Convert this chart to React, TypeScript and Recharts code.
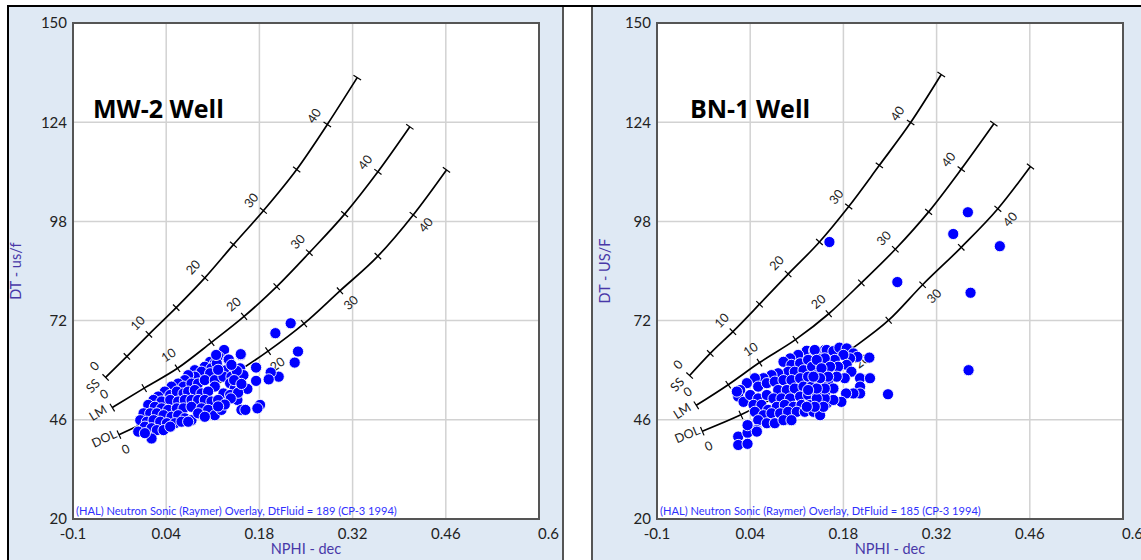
import React from 'react';
import { ComposedChart, Scatter, Line, XAxis, YAxis, CartesianGrid, ReferenceArea } from 'recharts';

const X_TICKS = [-0.1, 0.04, 0.18, 0.32, 0.46, 0.6];
const Y_TICKS = [20, 46, 72, 98, 124, 150];
const PHI_STEPS = [0, 5, 10, 15, 20, 25, 30, 35, 40, 45];

// MW-2 overlay curves: [NPHI, DT] at each porosity step (0..45 p.u.)
const MW2_SS = [[-0.051, 57.1], [-0.019, 62.6], [0.014, 68.4], [0.055, 75.4], [0.098, 83.2], [0.141, 91.9], [0.186, 100.8], [0.236, 111.6], [0.282, 123.4], [0.327, 135.7]];
const MW2_LM = [[-0.041, 49.2], [0.007, 54.3], [0.057, 59.5], [0.108, 66.3], [0.157, 73.1], [0.206, 80.9], [0.255, 89.8], [0.308, 99.9], [0.358, 111.0], [0.406, 122.8]];
const MW2_DOL = [[-0.031, 42.1], [0.024, 46.6], [0.079, 51.6], [0.136, 57.4], [0.193, 64.0], [0.247, 71.2], [0.301, 79.8], [0.358, 88.9], [0.411, 99.7], [0.461, 111.5]];

// BN-1 overlay curves
const BN1_SS = [[-0.051, 57.6], [-0.020, 63.4], [0.014, 69.1], [0.054, 76.3], [0.097, 84.2], [0.144, 92.6], [0.188, 101.9], [0.234, 112.7], [0.281, 123.9], [0.327, 136.5]];
const BN1_LM = [[-0.041, 49.8], [0.007, 55.2], [0.054, 61.0], [0.108, 67.0], [0.158, 73.8], [0.207, 81.9], [0.258, 90.7], [0.308, 100.5], [0.357, 111.7], [0.406, 123.6]];
const BN1_DOL = [[-0.032, 43.0], [0.026, 47.3], [0.081, 52.3], [0.138, 58.2], [0.194, 64.8], [0.248, 72.1], [0.299, 81.4], [0.357, 91.2], [0.412, 101.3], [0.461, 112.4]];

// MW-2 well samples [NPHI, DT]
const MW2_POINTS = [
  [0.127, 64.3], [0.152, 63.0], [0.119, 62.5], [0.133, 61.8], [0.136, 60.8], [0.106, 61.2], [0.113, 60.8], [0.098, 59.9], [0.108, 59.5], [0.119, 59.5],
  [0.130, 59.0], [0.143, 59.2], [0.083, 59.0], [0.093, 58.6], [0.106, 58.2], [0.083, 57.3], [0.073, 57.7], [0.068, 56.4], [0.058, 55.5], [0.066, 54.7],
  [0.078, 55.5], [0.088, 55.5], [0.098, 56.4], [0.113, 56.4], [0.126, 57.3], [0.138, 57.3], [0.113, 54.7], [0.136, 55.6], [0.143, 54.2], [0.153, 54.7],
  [0.048, 54.7], [0.038, 53.4], [0.046, 52.5], [0.056, 53.4], [0.066, 52.9], [0.073, 53.4], [0.083, 53.8], [0.093, 52.9], [0.103, 53.4], [0.126, 52.9],
  [0.136, 52.5], [0.147, 51.2], [0.028, 52.1], [0.021, 51.2], [0.033, 50.8], [0.046, 51.2], [0.058, 50.8], [0.068, 51.2], [0.078, 51.2], [0.088, 51.2],
  [0.098, 51.2], [0.108, 50.8], [0.118, 51.2], [0.013, 49.9], [0.023, 49.4], [0.033, 49.0], [0.043, 48.6], [0.056, 49.0], [0.066, 49.0], [0.078, 49.4],
  [0.093, 49.0], [0.103, 48.6], [0.113, 47.2], [0.123, 48.6], [0.153, 48.6], [0.006, 47.7], [0.016, 47.7], [0.026, 47.7], [0.036, 47.2], [0.048, 46.8],
  [0.058, 47.2], [0.068, 46.4], [0.078, 45.9], [0.088, 47.7], [0.098, 46.8], [0.001, 45.9], [0.011, 45.5], [0.021, 45.9], [0.031, 45.5], [0.041, 45.1],
  [0.053, 45.1], [0.063, 45.5], [0.073, 45.5], [0.008, 44.2], [0.018, 43.8], [0.026, 43.3], [0.036, 43.3], [0.046, 44.2], [-0.002, 42.9], [0.018, 41.1],
  [0.008, 42.5], [0.227, 71.3], [0.204, 68.7], [0.238, 63.9], [0.233, 61.0], [0.209, 57.3], [0.197, 58.4], [0.194, 56.6], [0.175, 59.7], [0.175, 56.2],
  [0.181, 49.9], [0.177, 49.0], [0.159, 48.6], [0.162, 54.1], [0.152, 63.2], [0.134, 61.8], [0.151, 59.5], [0.156, 57.7], [0.146, 58.8], [0.138, 60.4],
  [0.142, 56.4], [0.148, 53.1], [0.153, 55.4], [0.137, 51.6], [0.116, 60.8], [0.118, 59.1], [0.128, 50.0], [0.118, 49.5], [0.115, 63.0],
];

// BN-1 well samples [NPHI, DT]
const BN1_POINTS = [
  [0.125, 64.1], [0.136, 64.1], [0.152, 64.3], [0.112, 63.0], [0.100, 62.1], [0.090, 61.2], [0.102, 60.4], [0.115, 60.8], [0.127, 61.7], [0.142, 62.1],
  [0.157, 61.7], [0.097, 58.6], [0.107, 58.6], [0.120, 59.0], [0.133, 59.9], [0.147, 59.9], [0.155, 58.2], [0.082, 58.2], [0.072, 57.7], [0.060, 56.9],
  [0.047, 56.9], [0.035, 55.6], [0.025, 53.8], [0.022, 52.1], [0.030, 50.7], [0.040, 52.5], [0.052, 54.7], [0.065, 55.6], [0.077, 56.0], [0.090, 56.4],
  [0.102, 56.4], [0.115, 56.9], [0.127, 57.3], [0.140, 57.7], [0.082, 53.8], [0.095, 53.8], [0.107, 54.2], [0.120, 54.7], [0.132, 54.7], [0.145, 55.1],
  [0.157, 55.6], [0.052, 51.6], [0.065, 52.5], [0.075, 51.6], [0.087, 51.6], [0.100, 51.6], [0.115, 52.1], [0.127, 52.5], [0.140, 52.5], [0.152, 52.9],
  [0.045, 49.9], [0.057, 49.9], [0.067, 48.6], [0.080, 49.4], [0.092, 49.9], [0.105, 49.4], [0.117, 49.9], [0.130, 49.9], [0.142, 49.4], [0.155, 50.3],
  [0.047, 48.1], [0.060, 47.2], [0.072, 47.7], [0.085, 47.7], [0.097, 48.1], [0.110, 48.1], [0.122, 48.1], [0.135, 48.1], [0.145, 47.2], [0.052, 45.9],
  [0.065, 45.1], [0.077, 45.1], [0.090, 45.9], [0.102, 45.9], [0.037, 44.6], [0.050, 43.3], [0.022, 41.6], [0.036, 42.6], [0.050, 42.9], [0.022, 39.4],
  [0.036, 39.7], [0.036, 44.6], [0.020, 53.4], [0.137, 64.3], [0.155, 64.3], [0.165, 64.0], [0.174, 64.9], [0.185, 64.7], [0.195, 63.4], [0.201, 62.5],
  [0.219, 62.3], [0.190, 62.1], [0.180, 63.0], [0.167, 61.7], [0.152, 62.1], [0.140, 61.7], [0.185, 60.4], [0.172, 59.9], [0.160, 59.9], [0.147, 59.5],
  [0.192, 58.6], [0.182, 56.9], [0.170, 57.3], [0.157, 57.3], [0.145, 56.9], [0.135, 57.3], [0.205, 56.9], [0.220, 56.9], [0.205, 54.7], [0.205, 52.9],
  [0.195, 52.9], [0.184, 52.9], [0.177, 50.7], [0.165, 51.2], [0.152, 51.6], [0.140, 51.6], [0.165, 54.2], [0.152, 54.2], [0.140, 54.2], [0.127, 53.8],
  [0.247, 52.7], [0.150, 49.4], [0.137, 49.4], [0.125, 49.4], [0.159, 92.6], [0.367, 100.4], [0.345, 94.7], [0.415, 91.5], [0.261, 82.1], [0.371, 79.3],
  [0.368, 59.0],
];

const PLOT_W = 466;
const PLOT_H = 496;
const PX_X = PLOT_W / 0.7;
const PX_Y = PLOT_H / 130;

type Pt = { x: number; y: number; phi: number };
const toCurve = (arr: number[][]): Pt[] => arr.map((p, i) => ({ x: p[0], y: p[1], phi: PHI_STEPS[i] }));
const toPts = (arr: number[][]) => arr.map((p) => ({ x: p[0], y: p[1] }));

function curveDot(pts: Pt[], side: number, name: string, labels: number[]) {
  return (props: any) => {
    const { cx, cy, index } = props;
    if (typeof cx !== 'number' || typeof cy !== 'number') return <g key={`d${index}`} />;
    const a = pts[Math.max(0, index - 1)];
    const b = pts[Math.min(pts.length - 1, index + 1)];
    const th = Math.atan2(-(b.y - a.y) * PX_Y, (b.x - a.x) * PX_X);
    const tx = Math.cos(th);
    const ty = Math.sin(th);
    const nx = ty;
    const ny = -tx;
    const deg = (th * 180) / Math.PI;
    const phi = pts[index].phi;
    const L = 4.5;
    const items: any[] = [
      <line key="t" x1={cx + nx * L} y1={cy + ny * L} x2={cx - nx * L} y2={cy - ny * L} stroke="#000" strokeWidth={1.2} />,
    ];
    if (labels.includes(phi)) {
      const lx = cx + side * nx * 16;
      const ly = cy + side * ny * 16;
      items.push(
        <text key="l" x={lx} y={ly} transform={`rotate(${deg} ${lx} ${ly})`} textAnchor="middle" dominantBaseline="central" fontSize={12.5} fill="#222" fontFamily="Lato, sans-serif">
          {phi}
        </text>
      );
    }
    if (index === 0) {
      const lx = cx - tx * 15 + nx * 3;
      const ly = cy - ty * 15 + ny * 3;
      items.push(
        <text key="n" x={lx} y={ly} transform={`rotate(${deg} ${lx} ${ly})`} textAnchor="middle" dominantBaseline="central" fontSize={12.5} fill="#222" fontFamily="Lato, sans-serif">
          {name}
        </text>
      );
    }
    return <g key={`d${index}`}>{items}</g>;
  };
}

const dotShape = (props: any) => (
  <circle cx={props.cx} cy={props.cy} r={5.6} fill="#0000ff" stroke="#ffffff" strokeWidth={0.9} />
);

const XTick = (props: any) => {
  const { x, y, payload } = props;
  const last = payload.value === 0.6;
  return (
    <text x={last ? x - 1 : x} y={y} dy="0.71em" textAnchor={last ? 'start' : 'middle'} fontSize={15} fill="#222" fontFamily="Lato, sans-serif">
      {payload.value}
    </text>
  );
};

type PanelProps = {
  left: number;
  width: number;
  yAxisWidth: number;
  rightMargin: number;
  ss: number[][];
  lm: number[][];
  dol: number[][];
  points: number[][];
  dolLabels: number[];
};

function Panel(p: PanelProps) {
  const ss = toCurve(p.ss);
  const lm = toCurve(p.lm);
  const dol = toCurve(p.dol);
  const pts = toPts(p.points);
  return (
    <div style={{ position: 'absolute', left: p.left, top: 7 }}>
      <ComposedChart width={p.width} height={553} margin={{ top: 16, right: p.rightMargin, bottom: 0, left: 0 }}>
        <CartesianGrid stroke="#d2d2d2" strokeWidth={1.5} />
        <XAxis
          type="number"
          dataKey="x"
          domain={[-0.1, 0.6]}
          ticks={X_TICKS}
          interval={0}
          allowDataOverflow
          axisLine={false}
          tickLine={false}
          tickSize={0}
          tickMargin={9}
          height={41}
          tick={<XTick />}
        />
        <YAxis
          type="number"
          dataKey="y"
          domain={[20, 150]}
          ticks={Y_TICKS}
          interval={0}
          allowDataOverflow
          axisLine={false}
          tickLine={false}
          tickSize={0}
          tickMargin={6}
          width={p.yAxisWidth}
          tick={{ fontSize: 15, fill: '#222', fontFamily: 'Lato, sans-serif' }}
        />
        <ReferenceArea x1={-0.1} x2={0.6} y1={20} y2={150} fill="none" stroke="#555" strokeWidth={2} ifOverflow="visible" />
        <Line data={ss} dataKey="y" type="monotone" stroke="#000" strokeWidth={1.7} dot={curveDot(ss, 1, 'SS', [0, 10, 20, 30, 40])} activeDot={false} isAnimationActive={false} />
        <Line data={lm} dataKey="y" type="monotone" stroke="#000" strokeWidth={1.7} dot={curveDot(lm, 1, 'LM', [0, 10, 20, 30, 40])} activeDot={false} isAnimationActive={false} />
        <Line data={dol} dataKey="y" type="monotone" stroke="#000" strokeWidth={1.7} dot={curveDot(dol, -1, 'DOL', p.dolLabels)} activeDot={false} isAnimationActive={false} />
        <Scatter data={pts} dataKey="y" shape={dotShape} isAnimationActive={false} />
      </ComposedChart>
    </div>
  );
}

const abs = (s: React.CSSProperties): React.CSSProperties => ({ position: 'absolute', ...s });
const FONT = 'Lato, "Open Sans", sans-serif';
const AXIS_COLOR = '#4838a8';

export default function App() {
  return (
    <div style={abs({ left: 0, top: 0, width: 1141, height: 560, background: '#fff', overflow: 'hidden', fontFamily: FONT })}>
      <div style={abs({ left: 9, top: 7, width: 553, height: 553, background: '#dfe9f4' })} />
      <div style={abs({ left: 593, top: 7, width: 548, height: 553, background: '#dfe9f4' })} />
      <div style={abs({ left: 7, top: 5, width: 1134, height: 2, background: '#000' })} />
      <div style={abs({ left: 7, top: 5, width: 2, height: 555, background: '#000' })} />
      <div style={abs({ left: 562, top: 7, width: 2, height: 553, background: '#555' })} />
      <div style={abs({ left: 591, top: 7, width: 2, height: 553, background: '#555' })} />
      <div style={abs({ left: 73, top: 23, width: 466, height: 496, background: '#fff' })} />
      <div style={abs({ left: 657, top: 23, width: 466, height: 496, background: '#fff' })} />

      <Panel left={8} width={555} yAxisWidth={65} rightMargin={24} ss={MW2_SS} lm={MW2_LM} dol={MW2_DOL} points={MW2_POINTS} dolLabels={[0, 20, 30, 40]} />
      <Panel left={593} width={548} yAxisWidth={64} rightMargin={18} ss={BN1_SS} lm={BN1_LM} dol={BN1_DOL} points={BN1_POINTS} dolLabels={[0, 20, 30, 40]} />

      <div style={abs({ left: 93, top: 93, fontSize: 25, fontWeight: 700, fontFamily: '"Open Sans", sans-serif', color: '#000', lineHeight: '30px', whiteSpace: 'nowrap' })}>MW-2 Well</div>
      <div style={abs({ left: 690, top: 93, fontSize: 25, fontWeight: 700, fontFamily: '"Open Sans", sans-serif', color: '#000', lineHeight: '30px', whiteSpace: 'nowrap' })}>BN-1 Well</div>

      <div style={abs({ left: 76, top: 504, fontSize: 11.1, color: '#3030ff', lineHeight: '14px', whiteSpace: 'nowrap' })}>(HAL) Neutron Sonic (Raymer) Overlay, DtFluid = 189 (CP-3 1994)</div>
      <div style={abs({ left: 660, top: 504, fontSize: 11.1, color: '#3030ff', lineHeight: '14px', whiteSpace: 'nowrap' })}>(HAL) Neutron Sonic (Raymer) Overlay, DtFluid = 185 (CP-3 1994)</div>

      <div style={abs({ left: 256, top: 540, width: 100, textAlign: 'center', fontSize: 14.5, color: AXIS_COLOR, lineHeight: '18px' })}>NPHI - dec</div>
      <div style={abs({ left: 840, top: 540, width: 100, textAlign: 'center', fontSize: 14.5, color: AXIS_COLOR, lineHeight: '18px' })}>NPHI - dec</div>
      <div style={abs({ left: -34, top: 262, width: 100, textAlign: 'center', fontSize: 14.5, color: AXIS_COLOR, lineHeight: '18px', transform: 'rotate(-90deg)' })}>DT - us/f</div>
      <div style={abs({ left: 555, top: 262, width: 100, textAlign: 'center', fontSize: 14.5, color: AXIS_COLOR, lineHeight: '18px', transform: 'rotate(-90deg)' })}>DT - US/F</div>
    </div>
  );
}
